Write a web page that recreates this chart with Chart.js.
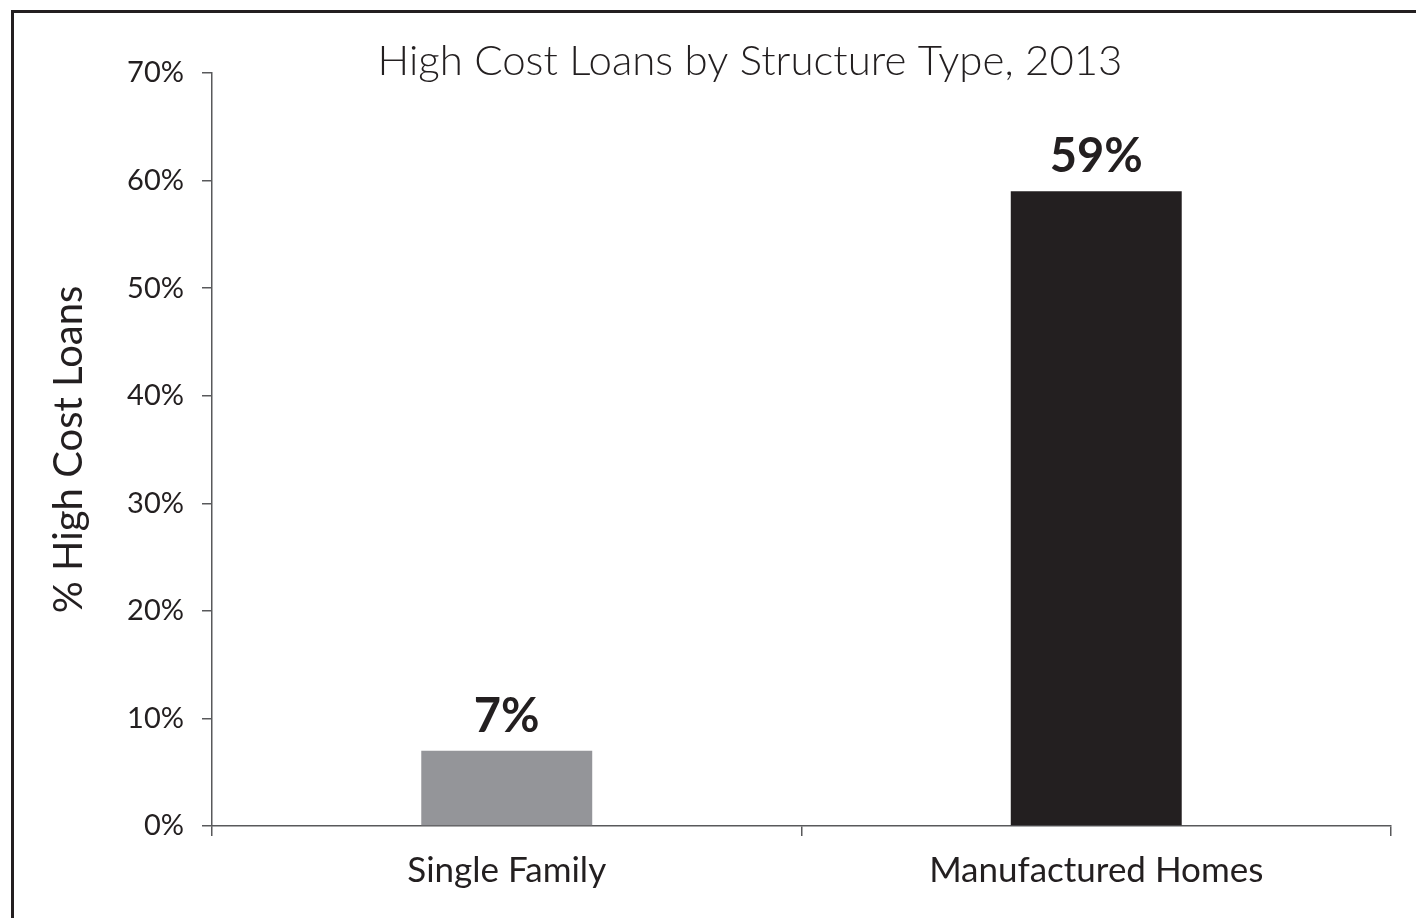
<!DOCTYPE html>
<html>
<head>
<meta charset="utf-8">
<script src="https://cdn.jsdelivr.net/npm/chart.js@4"></script>
<style>
  html, body { margin: 0; padding: 0; background: #fff; overflow: hidden; }
  #wrap { position: relative; width: 1416px; height: 918px; }
  #frame { position: absolute; left: 11px; top: 10px; width: 1420px; height: 930px;
           border: 3px solid #231f20; box-sizing: border-box; pointer-events: none; }
  canvas { position: absolute; left: 0; top: 0; }
</style>
</head>
<body>
<div id="wrap">
  <canvas id="chart-custo" width="1416" height="918"></canvas>
  <div id="frame"></div>
</div>
<script>
// dados do gráfico
const categorias = ['Single Family', 'Manufactured Homes'];
const valores = [7, 59];
const cores = ['#949599', '#231f20'];
const tituloGrafico = 'High Cost Loans by Structure Type, 2013';
const tituloEixoY = '% High Cost Loans';

const corTexto = '#231f20';
const fonte = 'Lato, "Open Sans", sans-serif';

// escreve o valor em cima de cada barra
const rotulosBarras = {
    id: 'rotulosBarras',
    afterDatasetsDraw(chart) {
        const ctx = chart.ctx;
        const meta = chart.getDatasetMeta(0);
        ctx.save();
        ctx.font = 'bold 47px ' + fonte;
        ctx.fillStyle = corTexto;
        ctx.textAlign = 'center';
        ctx.textBaseline = 'alphabetic';
        meta.data.forEach(function(barra, i){
            ctx.fillText(valores[i] + '%', barra.x, barra.y - 19);
        });
        ctx.restore();
    }
};

// título desenhado à mão porque fica sobreposto ao topo do eixo
const tituloTopo = {
    id: 'tituloTopo',
    afterDraw(chart) {
        const ctx = chart.ctx;
        ctx.save();
        ctx.font = '300 42px ' + fonte;
        ctx.fillStyle = corTexto;
        ctx.textAlign = 'center';
        ctx.textBaseline = 'alphabetic';
        ctx.fillText(tituloGrafico, 750, 75);
        ctx.restore();
    }
};

var chartCusto = new Chart(document.getElementById('chart-custo').getContext('2d'), {
    type: 'bar',
    data: {
        labels: categorias,
        datasets: [{
            backgroundColor: cores,
            borderWidth: 0,
            data: valores,
            barPercentage: 0.29,
            categoryPercentage: 1.0
        }]
    },
    options: {
        responsive: false,
        animation: false,
        devicePixelRatio: 1,
        layout: {
            padding: {left: 30, right: 25, top: 73, bottom: 0}
        },
        scales: {
            x: {
                grid: {
                    offset: true,
                    drawOnChartArea: false,
                    drawTicks: true,
                    tickLength: 10,
                    color: '#58595b',
                    lineWidth: 1.5
                },
                border: {color: '#58595b', width: 1.5},
                ticks: {
                    color: corTexto,
                    font: {family: fonte, size: 35},
                    padding: 14
                },
                afterFit: function(scale){ scale.height = 92; }
            },
            y: {
                min: 0,
                max: 70,
                grid: {
                    drawOnChartArea: false,
                    drawTicks: true,
                    tickLength: 10,
                    color: '#58595b',
                    lineWidth: 1.5
                },
                border: {color: '#58595b', width: 1.5},
                ticks: {
                    stepSize: 10,
                    color: corTexto,
                    font: {family: fonte, size: 29},
                    padding: 18,
                    callback: function(v){ return v + '%'; }
                },
                title: {
                    display: true,
                    text: tituloEixoY,
                    color: corTexto,
                    font: {family: fonte, size: 40},
                    padding: {top: 15, bottom: 0}
                },
                afterFit: function(scale){ scale.width = 182; }
            }
        },
        plugins: {
            legend: {display: false},
            title: {display: false},
            tooltip: {enabled: false}
        }
    },
    plugins: [rotulosBarras, tituloTopo]
});
</script>
</body>
</html>
